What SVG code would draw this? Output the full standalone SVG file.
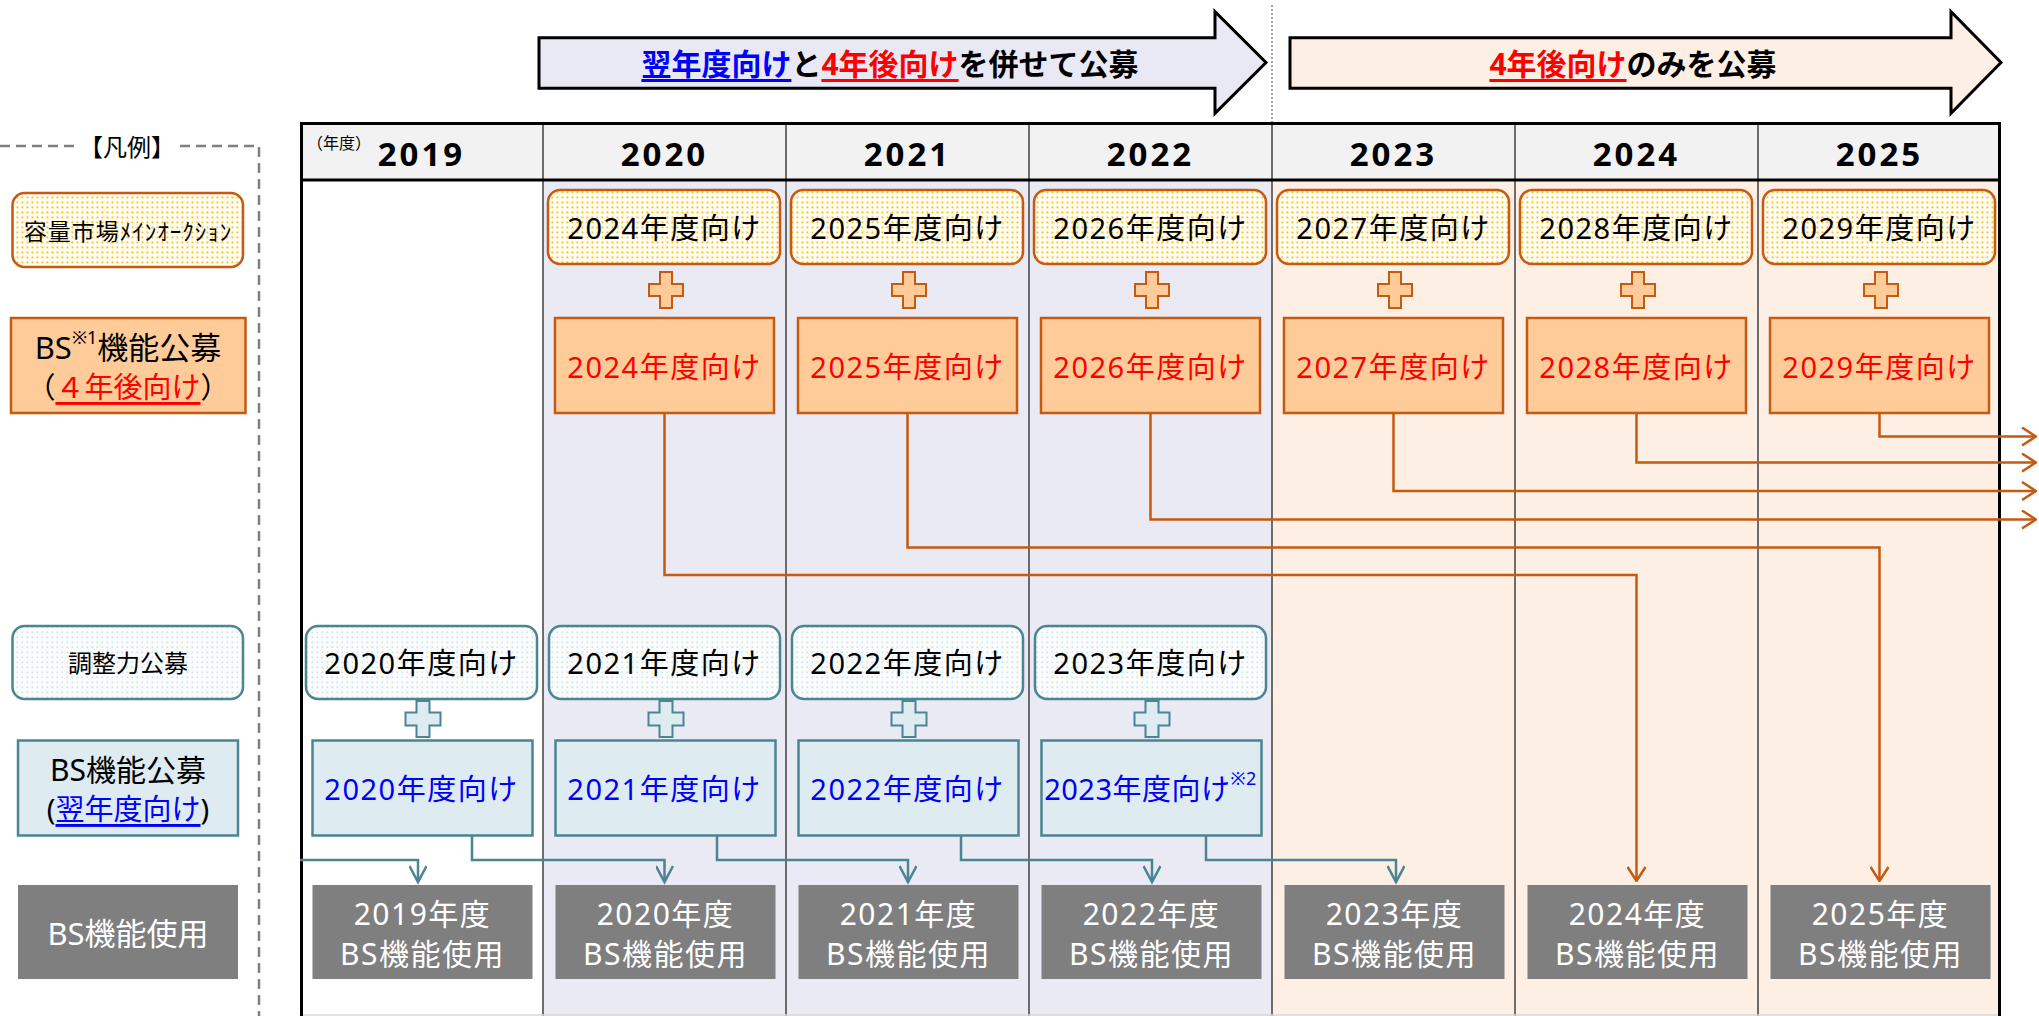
<svg xmlns="http://www.w3.org/2000/svg" xmlns:xlink="http://www.w3.org/1999/xlink" width="2039" height="1016" viewBox="0 0 2039 1016">
<style>
text{font-family:"Noto Sans","Noto Sans CJK JP",sans-serif}
.c{text-anchor:middle;dominant-baseline:central}
.bt{font-size:29px;letter-spacing:1.5px}
.ut{font-size:30px;letter-spacing:1.5px}
.yr{font-size:33px;font-weight:bold;letter-spacing:3px}
.ttl{font-size:30px;font-weight:bold}
.auc{fill:url(#dotY);stroke:#C55A11;stroke-width:2.5}
.bso{fill:#FFCC99;stroke:#C55A11;stroke-width:2.5}
.adj{fill:url(#dotT);stroke:#4A8591;stroke-width:2.5}
.bst{fill:#DEEBF0;stroke:#4A8591;stroke-width:2.5}
.use{fill:#7F7F7F}
.red{fill:#FF0000}
.blue{fill:#0000FF}
.wh{fill:#FFFFFF}
.co{fill:none;stroke:#C55A11;stroke-width:2.5}
.ct{fill:none;stroke:#4A8591;stroke-width:2.5}
.vl{stroke:#404040;stroke-width:1.5}
</style>
<defs>
<pattern id="dotY" width="5" height="5" patternUnits="userSpaceOnUse"><rect width="5" height="5" fill="#FFFDF6"/><rect x="1.5" y="1.5" width="1.8" height="1.8" fill="#FFC000"/></pattern>
<pattern id="dotT" width="5" height="5" patternUnits="userSpaceOnUse"><rect width="5" height="5" fill="#FBFDFD"/><rect x="1.5" y="1.5" width="1.6" height="1.6" fill="#CFE0E5"/></pattern>
<path id="plusO" d="M-6,-18 h12 v12 h11 v12 h-11 v12 h-12 v-12 h-11 v-12 h11 z" fill="#FFCC99" stroke="#C55A11" stroke-width="2"/>
<path id="plusT" d="M-6.5,-18 h13 v11.5 h11 v13 h-11 v11.5 h-13 v-11.5 h-11 v-13 h11 z" fill="#DEEBF0" stroke="#4A8591" stroke-width="2"/>
<marker id="ao" viewBox="0 0 16 20" refX="15" refY="10" markerWidth="16" markerHeight="20" markerUnits="userSpaceOnUse" orient="auto"><path d="M1,1 L15,10 L1,19" fill="none" stroke="#C55A11" stroke-width="2.5"/></marker>
<marker id="at" viewBox="0 0 20 18" refX="17" refY="9" markerWidth="20" markerHeight="18" markerUnits="userSpaceOnUse" orient="auto"><path d="M1,0.5 L17,9 L1,17.5" fill="none" stroke="#4A8591" stroke-width="2.5"/></marker>
</defs>

<!-- top arrows -->
<g id="banner1">
<path d="M539,37.7 H1215 V11.7 L1266,62.5 L1215,113.3 V88.3 H539 Z" fill="#E9E9F5" stroke="#000" stroke-width="3"/>
<text class="ttl c" x="890" y="63"><tspan class="blue" text-decoration="underline">翌年度向け</tspan>と<tspan class="red" text-decoration="underline">4年後向け</tspan>を併せて公募</text>
</g>
<line x1="1272" y1="5" x2="1272" y2="123" stroke="#888" stroke-width="1.5" stroke-dasharray="2 2"/>
<g id="banner2">
<path d="M1290,37.7 H1951 V11.7 L2001,62.5 L1951,113.3 V88.3 H1290 Z" fill="#FDEFE3" stroke="#000" stroke-width="3"/>
<text class="ttl c" x="1633" y="63"><tspan class="red" text-decoration="underline">4年後向け</tspan>のみを公募</text>
</g>

<!-- table background -->
<g id="table">
<rect x="300" y="180" width="243" height="836" fill="#FFFFFF"/>
<rect x="543" y="180" width="729" height="836" fill="#EAEAF5"/>
<rect x="1272" y="180" width="729" height="836" fill="#FDEFE3"/>
<rect x="300" y="123" width="1701" height="57" fill="#F2F2F2"/>
<line class="vl" x1="543" y1="123" x2="543" y2="1016"/>
<line class="vl" x1="786" y1="123" x2="786" y2="1016"/>
<line class="vl" x1="1029" y1="123" x2="1029" y2="1016"/>
<line class="vl" x1="1272" y1="123" x2="1272" y2="1016"/>
<line class="vl" x1="1515" y1="123" x2="1515" y2="1016"/>
<line class="vl" x1="1758" y1="123" x2="1758" y2="1016"/>
<line x1="300" y1="1015" x2="2001" y2="1015" stroke="#D9D9D9" stroke-width="1.5"/>
<path d="M301.5,1016 V123.5 H1999.5 V1016" fill="none" stroke="#000" stroke-width="3"/>
<line x1="300" y1="180" x2="2001" y2="180" stroke="#000" stroke-width="3"/>
<text x="307" y="143" font-size="16" dominant-baseline="central">（年度）</text>
<text class="yr c" x="421.5" y="153">2019</text>
<text class="yr c" x="664.5" y="153">2020</text>
<text class="yr c" x="907.5" y="153">2021</text>
<text class="yr c" x="1150.5" y="153">2022</text>
<text class="yr c" x="1393.5" y="153">2023</text>
<text class="yr c" x="1636.5" y="153">2024</text>
<text class="yr c" x="1879.5" y="153">2025</text>
</g>

<!-- legend -->
<g id="legend">
<path d="M0,146 H78 M180,146 H259 V1016" fill="none" stroke="#7F7F7F" stroke-width="2.5" stroke-dasharray="10 6"/>
<text class="c" x="127" y="146" font-size="24">【凡例】</text>
</g>
<g id="leg-auction"><rect class="auc" x="12.5" y="193" width="230.5" height="74" rx="12"/><text class="c" x="128" y="231" font-size="23" letter-spacing="1">容量市場ﾒｲﾝｵｰｸｼｮﾝ</text></g>
<g id="leg-bs4"><rect class="bso" x="11" y="318" width="234.5" height="95"/>
<text class="c" x="128" y="347" font-size="31">BS<tspan font-size="18" dy="-10">※1</tspan><tspan dy="10">機能公募</tspan></text>
<text class="c" x="128" y="386" font-size="29">（<tspan class="red" text-decoration="underline">４年後向け</tspan>）</text></g>
<g id="leg-adj"><rect class="adj" x="12.5" y="626" width="230.5" height="73" rx="12"/><text class="c" x="128" y="662" font-size="24">調整力公募</text></g>
<g id="leg-bs1"><rect class="bst" x="18" y="740.5" width="220" height="95"/>
<text class="c" x="128" y="769" font-size="30">BS機能公募</text>
<text class="c" x="128" y="808" font-size="29">(<tspan class="blue" text-decoration="underline">翌年度向け</tspan>)</text></g>
<g id="leg-use"><rect class="use" x="18" y="885" width="220" height="94"/><text class="c wh" x="128" y="933" font-size="31">BS機能使用</text></g>

<!-- connectors -->
<g id="connectors">
<path class="co" d="M664.5,413 V575 H1636.5 V881" marker-end="url(#ao)"/>
<path class="co" d="M907.5,413 V547.5 H1879.5 V881" marker-end="url(#ao)"/>
<path class="co" d="M1150.5,413 V519.5 H2036" marker-end="url(#ao)"/>
<path class="co" d="M1393.5,413 V491 H2036" marker-end="url(#ao)"/>
<path class="co" d="M1636.5,413 V462.5 H2036" marker-end="url(#ao)"/>
<path class="co" d="M1879.5,413 V436.5 H2036" marker-end="url(#ao)"/>
<path class="ct" d="M300,860 H418 V882" marker-end="url(#at)"/>
<path class="ct" d="M472,835.5 V860 H664.5 V882" marker-end="url(#at)"/>
<path class="ct" d="M717,835.5 V860 H908 V882" marker-end="url(#at)"/>
<path class="ct" d="M961,835.5 V860 H1152 V882" marker-end="url(#at)"/>
<path class="ct" d="M1206,835.5 V860 H1396 V882" marker-end="url(#at)"/>
</g>

<!-- auction boxes -->
<g id="auc2020"><rect class="auc" x="548" y="190" width="232" height="74" rx="12"/><text class="c bt" x="664.5" y="227">2024年度向け</text></g>
<g id="auc2021"><rect class="auc" x="791" y="190" width="232" height="74" rx="12"/><text class="c bt" x="907.5" y="227">2025年度向け</text></g>
<g id="auc2022"><rect class="auc" x="1034" y="190" width="232" height="74" rx="12"/><text class="c bt" x="1150.5" y="227">2026年度向け</text></g>
<g id="auc2023"><rect class="auc" x="1277" y="190" width="232" height="74" rx="12"/><text class="c bt" x="1393.5" y="227">2027年度向け</text></g>
<g id="auc2024"><rect class="auc" x="1520" y="190" width="232" height="74" rx="12"/><text class="c bt" x="1636.5" y="227">2028年度向け</text></g>
<g id="auc2025"><rect class="auc" x="1763" y="190" width="232" height="74" rx="12"/><text class="c bt" x="1879.5" y="227">2029年度向け</text></g>

<!-- orange plus -->
<g id="plus-orange">
<use href="#plusO" x="666" y="290"/>
<use href="#plusO" x="909" y="290"/>
<use href="#plusO" x="1152" y="290"/>
<use href="#plusO" x="1395" y="290"/>
<use href="#plusO" x="1638" y="290"/>
<use href="#plusO" x="1881" y="290"/>
</g>

<!-- BS 4 years ahead -->
<g id="bs4-2020"><rect class="bso" x="555" y="318" width="219" height="95"/><text class="c bt red" x="664.5" y="366">2024年度向け</text></g>
<g id="bs4-2021"><rect class="bso" x="798" y="318" width="219" height="95"/><text class="c bt red" x="907.5" y="366">2025年度向け</text></g>
<g id="bs4-2022"><rect class="bso" x="1041" y="318" width="219" height="95"/><text class="c bt red" x="1150.5" y="366">2026年度向け</text></g>
<g id="bs4-2023"><rect class="bso" x="1284" y="318" width="219" height="95"/><text class="c bt red" x="1393.5" y="366">2027年度向け</text></g>
<g id="bs4-2024"><rect class="bso" x="1527" y="318" width="219" height="95"/><text class="c bt red" x="1636.5" y="366">2028年度向け</text></g>
<g id="bs4-2025"><rect class="bso" x="1770" y="318" width="219" height="95"/><text class="c bt red" x="1879.5" y="366">2029年度向け</text></g>

<!-- adjustment auction -->
<g id="adj2019"><rect class="adj" x="306" y="626" width="231" height="73" rx="12"/><text class="c bt" x="421.5" y="662">2020年度向け</text></g>
<g id="adj2020"><rect class="adj" x="549" y="626" width="231" height="73" rx="12"/><text class="c bt" x="664.5" y="662">2021年度向け</text></g>
<g id="adj2021"><rect class="adj" x="792" y="626" width="231" height="73" rx="12"/><text class="c bt" x="907.5" y="662">2022年度向け</text></g>
<g id="adj2022"><rect class="adj" x="1035" y="626" width="231" height="73" rx="12"/><text class="c bt" x="1150.5" y="662">2023年度向け</text></g>

<g id="plus-teal">
<use href="#plusT" x="423" y="719"/>
<use href="#plusT" x="666" y="719"/>
<use href="#plusT" x="909" y="719"/>
<use href="#plusT" x="1152" y="719"/>
</g>

<!-- BS next year -->
<g id="bs1-2019"><rect class="bst" x="312.5" y="740.5" width="220" height="95"/><text class="c bt blue" x="421.5" y="788">2020年度向け</text></g>
<g id="bs1-2020"><rect class="bst" x="555.5" y="740.5" width="220" height="95"/><text class="c bt blue" x="664.5" y="788">2021年度向け</text></g>
<g id="bs1-2021"><rect class="bst" x="798.5" y="740.5" width="220" height="95"/><text class="c bt blue" x="907.5" y="788">2022年度向け</text></g>
<g id="bs1-2022"><rect class="bst" x="1041.5" y="740.5" width="220" height="95"/><text class="c blue" x="1150.5" y="788" font-size="29" letter-spacing="0.5">2023年度向け<tspan font-size="18" dy="-10">※2</tspan></text></g>

<!-- BS use -->
<g id="use2019"><rect class="use" x="312.5" y="885" width="220" height="94"/><text class="c ut wh" x="422.5" y="913">2019年度</text><text class="c ut wh" x="422.5" y="953">BS機能使用</text></g>
<g id="use2020"><rect class="use" x="555.5" y="885" width="220" height="94"/><text class="c ut wh" x="665.5" y="913">2020年度</text><text class="c ut wh" x="665.5" y="953">BS機能使用</text></g>
<g id="use2021"><rect class="use" x="798.5" y="885" width="220" height="94"/><text class="c ut wh" x="908.5" y="913">2021年度</text><text class="c ut wh" x="908.5" y="953">BS機能使用</text></g>
<g id="use2022"><rect class="use" x="1041.5" y="885" width="220" height="94"/><text class="c ut wh" x="1151.5" y="913">2022年度</text><text class="c ut wh" x="1151.5" y="953">BS機能使用</text></g>
<g id="use2023"><rect class="use" x="1284.5" y="885" width="220" height="94"/><text class="c ut wh" x="1394.5" y="913">2023年度</text><text class="c ut wh" x="1394.5" y="953">BS機能使用</text></g>
<g id="use2024"><rect class="use" x="1527.5" y="885" width="220" height="94"/><text class="c ut wh" x="1637.5" y="913">2024年度</text><text class="c ut wh" x="1637.5" y="953">BS機能使用</text></g>
<g id="use2025"><rect class="use" x="1770.5" y="885" width="220" height="94"/><text class="c ut wh" x="1880.5" y="913">2025年度</text><text class="c ut wh" x="1880.5" y="953">BS機能使用</text></g>
</svg>
